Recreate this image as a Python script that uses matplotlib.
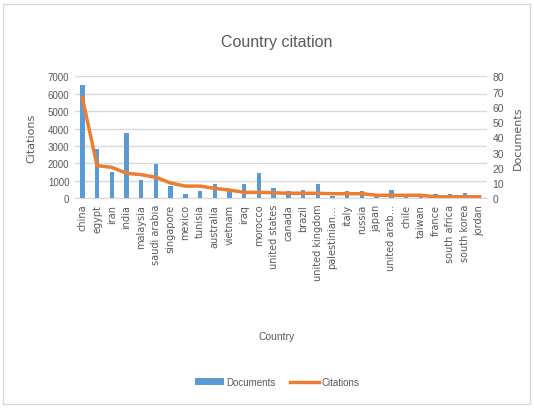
import matplotlib
matplotlib.use("Agg")
import matplotlib.pyplot as plt
from matplotlib.patches import Rectangle
import numpy as np

countries = ["china", "egypt", "iran", "india", "malaysia", "saudi arabia",
             "singapore", "mexico", "tunisia", "australia", "vietnam", "iraq",
             "morocco", "united states", "canada", "brazil", "united kingdom",
             "palestinian\u2026", "italy", "russia", "japan", "united arab\u2026",
             "chile", "taiwan", "france", "south africa", "south korea", "jordan"]
bar_values = [6500, 2850, 1530, 3730, 1070, 1950, 720, 260, 420, 820, 400, 820,
              1470, 570, 400, 490, 800, 150, 400, 400, 60, 490, 60, 60, 250, 250,
              320, 40]
line_values = [66, 21.4, 20.3, 16.4, 15.5, 13.8, 10, 8, 8, 6.5, 5.4, 3.9, 3.9,
               3.6, 3.3, 3.3, 3.3, 3, 3, 3, 2, 2, 2, 2, 1, 1, 1, 1]
left_ticks = [0, 1000, 2000, 3000, 4000, 5000, 6000, 7000]
right_ticks = [0, 10, 20, 30, 40, 50, 60, 70, 80]

BAR = "#5B9BD5"
LINE = "#ED7D31"
TXT = "#595959"
NARROW = ["Liberation Sans", "DejaVu Sans"]

fig = plt.figure(figsize=(5.34, 4.10), dpi=100)
fig.patches.append(Rectangle((0.006, 0.012), 0.986, 0.975, transform=fig.transFigure,
                             fill=False, edgecolor="#d9d9d9", linewidth=1))

W, H = 534, 410
left, right, top, bottom = 75, 487, 77.3, 199.3
ax = fig.add_axes([left / W, 1 - bottom / H, (right - left) / W, (bottom - top) / H])
ax2 = ax.twinx()

x = np.arange(len(countries))
ax.bar(x, bar_values, width=0.3, color=BAR, label="Documents", zorder=3)
ax2.plot(x, line_values, color=LINE, linewidth=2.5, label="Citations", zorder=4)

ax.set_xlim(-0.5, len(countries) - 0.5)
ax.set_ylim(0, 7000)
ax2.set_ylim(0, 80)
ax.set_yticks(left_ticks)
ax2.set_yticks(right_ticks)
ax.set_yticklabels([str(v) for v in left_ticks], family=NARROW, fontsize=7, color=TXT)
ax2.set_yticklabels([str(v) for v in right_ticks], family=NARROW, fontsize=7.5, color=TXT)
ax.yaxis.grid(True, color="#d9d9d9", linewidth=1, zorder=0)
ax.set_axisbelow(True)
ax.set_xticks(x)
ax.set_xticklabels(countries, rotation=90, fontsize=7, color=TXT)
for a in (ax, ax2):
    for s in a.spines.values():
        s.set_visible(False)
    a.tick_params(length=0, pad=4)
ax.spines["bottom"].set_visible(True)
ax.spines["bottom"].set_color("#d9d9d9")

ax.set_ylabel("Citations", fontsize=8, color=TXT, labelpad=8)
ax2.set_ylabel("Documents", fontsize=8, color=TXT, labelpad=6, rotation=90)

fig.text(277 / W, 1 - 42 / H, "Country citation", ha="center", va="center",
         family=NARROW, fontsize=11.5, color=TXT)
fig.text(277 / W, 1 - 337 / H, "Country", ha="center", va="center",
         family=NARROW, fontsize=7.5, color=TXT)

h1, l1 = ax.get_legend_handles_labels()
h2, l2 = ax2.get_legend_handles_labels()
fig.legend(h1 + h2, l1 + l2, loc="center", bbox_to_anchor=(277 / W, 1 - 383 / H),
           ncol=2, frameon=False, prop={"family": NARROW, "size": 7},
           labelcolor=TXT, handlelength=3, handletextpad=0.2, columnspacing=1.5)

fig.savefig("out.png", dpi=100, facecolor="white")
